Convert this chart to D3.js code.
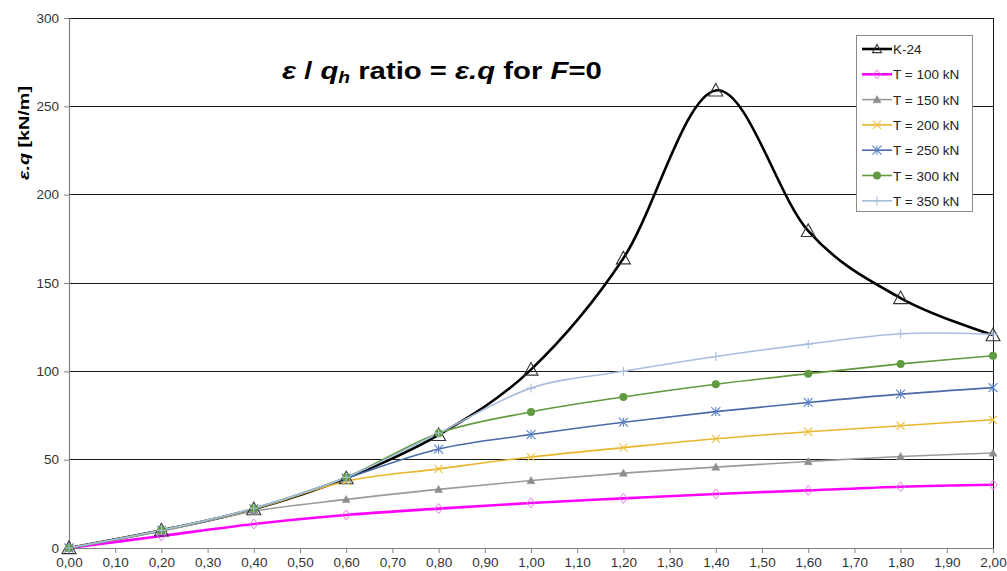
<!DOCTYPE html>
<html>
<head>
<meta charset="utf-8">
<script src="https://cdn.jsdelivr.net/npm/d3@7"></script>
<style>
  html, body { margin: 0; padding: 0; background: #fff; }
  svg { display: block; font-family: "Liberation Sans", Arial, sans-serif; }
</style>
</head>
<body>
<svg id="chart" width="1007" height="571"></svg>
<script>
// ---- data ----
const xValues = [0.0, 0.2, 0.4, 0.6, 0.8, 1.0, 1.2, 1.4, 1.6, 1.8, 2.0];
const k24  = [0, 10, 22, 39.5, 64, 101, 164, 259, 179.5, 141.5, 120.5];
const t100 = [0, 6.8, 13.6, 18.7, 22.3, 25.5, 28.1, 30.6, 32.6, 34.7, 35.8];
const t150 = [0, 9.5, 20.8, 27.5, 33.2, 38.2, 42.4, 45.8, 49.0, 51.8, 53.8];
const t200 = [0, 10, 22, 37.8, 44.8, 51.5, 56.8, 61.8, 65.8, 69.2, 72.6];
const t250 = [0, 10, 22.2, 39.5, 56, 64.2, 71.2, 77.2, 82.4, 87.1, 90.8];
const t300 = [0, 10, 22.5, 40, 65, 77, 85.5, 92.7, 98.7, 104.2, 108.8];
const t350 = [0, 10, 22.5, 40, 65, 90.5, 100, 108.4, 115.4, 121.3, 121];
const seriesNames = ["K-24", "T = 100 kN", "T = 150 kN", "T = 200 kN", "T = 250 kN", "T = 300 kN", "T = 350 kN"];
const xTicks = [0, 0.1, 0.2, 0.3, 0.4, 0.5, 0.6, 0.7, 0.8, 0.9, 1.0, 1.1, 1.2, 1.3, 1.4, 1.5, 1.6, 1.7, 1.8, 1.9, 2.0];
const yTicks = [0, 50, 100, 150, 200, 250, 300];

// ---- styles ----
const styles = [
  {color: "#000000", width: 2.6, marker: "triOpen", mColor: "#333333", mSize: 14},
  {color: "#ff00ff", width: 2.6, marker: "diamond", mColor: "#e27de2", mSize: 10},
  {color: "#9a9a9a", width: 1.6, marker: "triFill", mColor: "#8e8e8e", mSize: 8},
  {color: "#e8b52c", width: 1.6, marker: "x", mColor: "#f0c040", mSize: 8},
  {color: "#4a6aa8", width: 1.6, marker: "star", mColor: "#5b82c8", mSize: 9},
  {color: "#619a3f", width: 1.6, marker: "circle", mColor: "#619a3f", mSize: 8},
  {color: "#a7bede", width: 1.6, marker: "plus", mColor: "#a7bede", mSize: 9}
];
const allSeries = [k24, t100, t150, t200, t250, t300, t350];

const svg = d3.select("#chart");
const pL = 69, pR = 993, pT = 18, pB = 548;
const x = d3.scaleLinear().domain([0, 2]).range([pL, pR]);
const y = d3.scaleLinear().domain([0, 300]).range([pB, pT]);

// gridlines
svg.append("g").selectAll("line").data(yTicks.filter(d => d > 0)).join("line")
  .attr("x1", pL).attr("x2", pR)
  .attr("y1", d => y(d)).attr("y2", d => y(d))
  .attr("stroke", "#1a1a1a").attr("stroke-width", 1).attr("shape-rendering", "crispEdges");

// right border
svg.append("line").attr("x1", pR).attr("x2", pR).attr("y1", pT).attr("y2", pB)
  .attr("stroke", "#1a1a1a").attr("stroke-width", 1).attr("shape-rendering", "crispEdges");

// axes
const fmt = d => d3.format(".2f")(d).replace(".", ",");
const xAxis = svg.append("g").attr("transform", `translate(0,${pB})`)
  .call(d3.axisBottom(x).tickValues(xTicks).tickFormat(fmt).tickSize(5).tickSizeOuter(0));
const yAxis = svg.append("g").attr("transform", `translate(${pL},0)`)
  .call(d3.axisLeft(y).tickValues(yTicks).tickSize(5).tickSizeOuter(0));
[xAxis, yAxis].forEach(g => {
  g.select(".domain").attr("stroke", "#808080").attr("stroke-width", 1.2);
  g.selectAll(".tick line").attr("stroke", "#808080");
  g.selectAll(".tick text").attr("fill", "#333").style("font-size", "13.5px")
    .style("font-family", "'Liberation Sans', Arial, sans-serif");
});
xAxis.selectAll(".tick text").attr("y", 9);
yAxis.selectAll(".tick text").attr("x", -10);

// marker drawing
function drawMarker(g, type, color, size) {
  const s = size / 2;
  if (type === "triOpen") {
    g.append("path").attr("d", `M0,${-s}L${s},${s*0.8}L${-s},${s*0.8}Z`)
      .attr("fill", "none").attr("stroke", color).attr("stroke-width", 1.1);
  } else if (type === "triFill") {
    g.append("path").attr("d", `M0,${-s}L${s},${s*0.8}L${-s},${s*0.8}Z`)
      .attr("fill", color).attr("stroke", color).attr("stroke-width", 0.5);
  } else if (type === "diamond") {
    g.append("path").attr("d", `M0,${-s}L${s*0.8},0L0,${s}L${-s*0.8},0Z`)
      .attr("fill", "none").attr("stroke", color).attr("stroke-width", 1);
  } else if (type === "x") {
    g.append("path").attr("d", `M${-s},${-s}L${s},${s}M${-s},${s}L${s},${-s}`)
      .attr("stroke", color).attr("stroke-width", 1.1);
  } else if (type === "star") {
    g.append("path").attr("d", `M${-s},${-s}L${s},${s}M${-s},${s}L${s},${-s}M0,${-s}L0,${s}`)
      .attr("stroke", color).attr("stroke-width", 1.1);
  } else if (type === "plus") {
    g.append("path").attr("d", `M${-s},0L${s},0M0,${-s}L0,${s}`)
      .attr("stroke", color).attr("stroke-width", 1.1);
  } else if (type === "circle") {
    g.append("circle").attr("r", s).attr("fill", color);
  }
}

// lines
const line = d3.line().x(d => x(d[0])).y(d => y(d[1])).curve(d3.curveCardinal.tension(0));
allSeries.forEach((vals, i) => {
  const pts = xValues.map((xv, j) => [xv, vals[j]]);
  svg.append("path").datum(pts).attr("d", line)
    .attr("fill", "none").attr("stroke", styles[i].color).attr("stroke-width", styles[i].width)
    .attr("stroke-linejoin", "round");
});
// markers
allSeries.forEach((vals, i) => {
  const st = styles[i];
  xValues.forEach((xv, j) => {
    const g = svg.append("g").attr("transform", `translate(${x(xv)},${y(vals[j])})`);
    drawMarker(g, st.marker, st.mColor, st.mSize);
  });
});

// legend
const lg = svg.append("g");
lg.append("rect").attr("x", 856.5).attr("y", 35.5).attr("width", 116).attr("height", 176)
  .attr("fill", "#fff").attr("stroke", "#8a8a8a").attr("stroke-width", 1);
seriesNames.forEach((name, i) => {
  const yy = 49 + i * 25.3;
  const st = styles[i];
  lg.append("line").attr("x1", 862).attr("x2", 892).attr("y1", yy).attr("y2", yy)
    .attr("stroke", st.color).attr("stroke-width", st.width);
  const g = lg.append("g").attr("transform", `translate(877,${yy})`);
  drawMarker(g, st.marker, st.mColor, Math.min(st.mSize, 9));
  lg.append("text").attr("x", 893).attr("y", yy + 5).text(name)
    .attr("fill", "#222").style("font-size", "13.5px");
});

// title
const title = svg.append("text").attr("x", 0).attr("y", 0)
  .style("font-size", "24.5px").style("font-weight", "bold").attr("fill", "#000");
title.append("tspan").style("font-style", "italic").text("ε");
title.append("tspan").text(" / ");
title.append("tspan").style("font-style", "italic").text("q");
title.append("tspan").style("font-style", "italic").style("font-size", "16px").attr("dy", 4).text("h");
title.append("tspan").attr("dy", -4).text(" ratio = ");
title.append("tspan").style("font-style", "italic").text("ε.q");
title.append("tspan").text(" for ");
title.append("tspan").style("font-style", "italic").text("F");
title.append("tspan").text("=0");
const tw = title.node().getBBox().width;
title.attr("transform", `translate(282,79) scale(${320 / tw},1)`);

// y label
const yl = svg.append("text").attr("x", 0).attr("y", 0)
  .attr("text-anchor", "middle").style("font-size", "15px").style("font-weight", "bold").attr("fill", "#000");
yl.append("tspan").style("font-style", "italic").text("ε.q");
yl.append("tspan").text(" [kN/m]");
const lw = yl.node().getBBox().width;
yl.attr("transform", `translate(29,133) rotate(-90) scale(${94 / lw},1)`);
</script>
</body>
</html>
